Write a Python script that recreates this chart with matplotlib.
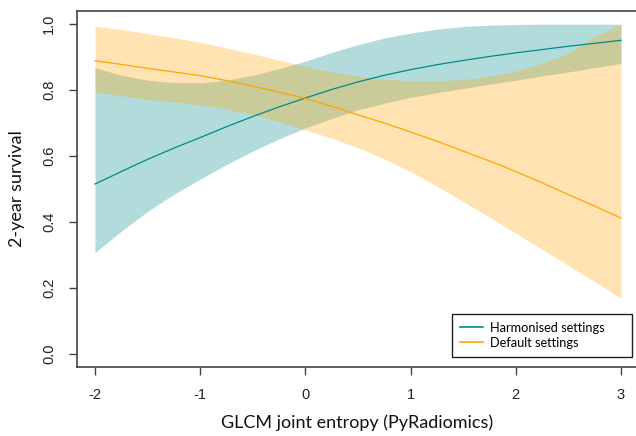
import numpy as np
import matplotlib.pyplot as plt

# values
entropy = [-2.0, -1.75, -1.5, -1.25, -1.0, -0.75, -0.5, -0.25, 0.0, 0.25, 0.5,
           0.75, 1.0, 1.25, 1.5, 1.75, 2.0, 2.25, 2.5, 2.75, 3.0]

harm_fit = [0.515, 0.553, 0.590, 0.624, 0.656, 0.689, 0.720, 0.749, 0.776, 0.802, 0.825,
            0.845, 0.862, 0.877, 0.890, 0.902, 0.913, 0.923, 0.933, 0.942, 0.951]
harm_lo = [0.307, 0.372, 0.432, 0.484, 0.530, 0.574, 0.615, 0.652, 0.685, 0.714, 0.740,
           0.760, 0.778, 0.792, 0.805, 0.818, 0.830, 0.843, 0.855, 0.868, 0.881]
harm_hi = [0.868, 0.845, 0.830, 0.823, 0.822, 0.830, 0.845, 0.865, 0.888, 0.914, 0.938,
           0.958, 0.973, 0.985, 0.993, 0.997, 0.999, 1.000, 1.000, 1.000, 1.000]

def_fit = [0.889, 0.878, 0.866, 0.855, 0.844, 0.829, 0.812, 0.794, 0.775, 0.751, 0.725,
           0.700, 0.673, 0.645, 0.615, 0.585, 0.553, 0.519, 0.483, 0.448, 0.412]
def_lo = [0.795, 0.783, 0.772, 0.764, 0.755, 0.742, 0.726, 0.704, 0.679, 0.654, 0.625,
          0.591, 0.553, 0.509, 0.462, 0.414, 0.366, 0.317, 0.268, 0.219, 0.169]
def_hi = [0.994, 0.984, 0.972, 0.959, 0.945, 0.928, 0.910, 0.891, 0.872, 0.856, 0.842,
          0.833, 0.828, 0.828, 0.832, 0.842, 0.858, 0.881, 0.912, 0.962, 1.000]

labels = ['Harmonised settings', 'Default settings']
xticks = [-2, -1, 0, 1, 2, 3]
yticks = [0.0, 0.2, 0.4, 0.6, 0.8, 1.0]

W, H = 636, 436
fig = plt.figure(figsize=(W / 100, H / 100), dpi=100)
ax = fig.add_axes([77 / W, 69 / H, 565 / W, 356 / H])

ax.fill_between(entropy, harm_lo, harm_hi, color='darkcyan', alpha=0.3, lw=0)
l1, = ax.plot(entropy, harm_fit, color='darkcyan', lw=0.9)
ax.fill_between(entropy, def_lo, def_hi, color='orange', alpha=0.3, lw=0)
l2, = ax.plot(entropy, def_fit, color='orange', lw=0.9)

ax.set_xlim(-2.171, 3.2)
ax.set_ylim(-0.04, 1.04)

ax.set_xticks(xticks, labels=[str(t) for t in xticks])
ax.set_yticks(yticks, labels=['%.1f' % t for t in yticks])
ax.tick_params(direction='out', length=6, width=1, color='#444444',
               labelsize=10.5, pad=9, labelcolor='#222222')
for lab in ax.get_xticklabels() + ax.get_yticklabels():
    lab.set_fontfamily('Liberation Sans')
for lab in ax.get_yticklabels():
    lab.set_rotation(90)
    lab.set_va('center')

for s in ax.spines.values():
    s.set_color('#444444')
    s.set_linewidth(1.2)

fig.text(357 / W, 1 - 423 / H, 'GLCM joint entropy (PyRadiomics)',
         ha='center', va='center', fontsize=13, family='Lato', color='#111111')
fig.text(17 / W, 1 - 189 / H, '2-year survival', rotation=90,
         ha='center', va='center', fontsize=13, family='Lato', color='#111111')

leg = ax.legend([l1, l2], labels, loc='upper left',
                bbox_to_anchor=(452 / W, 1 - 314 / H, 180 / W, 0),
                bbox_transform=fig.transFigure, mode='expand',
                prop={'family': 'Lato', 'size': 9.2}, fancybox=False,
                framealpha=1, edgecolor='#222222', borderpad=0.6,
                handlelength=1.8, handletextpad=0.6, labelspacing=0.25,
                borderaxespad=0)
leg.get_frame().set_linewidth(1.0)
for h in leg.legend_handles:
    h.set_linewidth(1.2)

fig.savefig('out.png', dpi=100)
